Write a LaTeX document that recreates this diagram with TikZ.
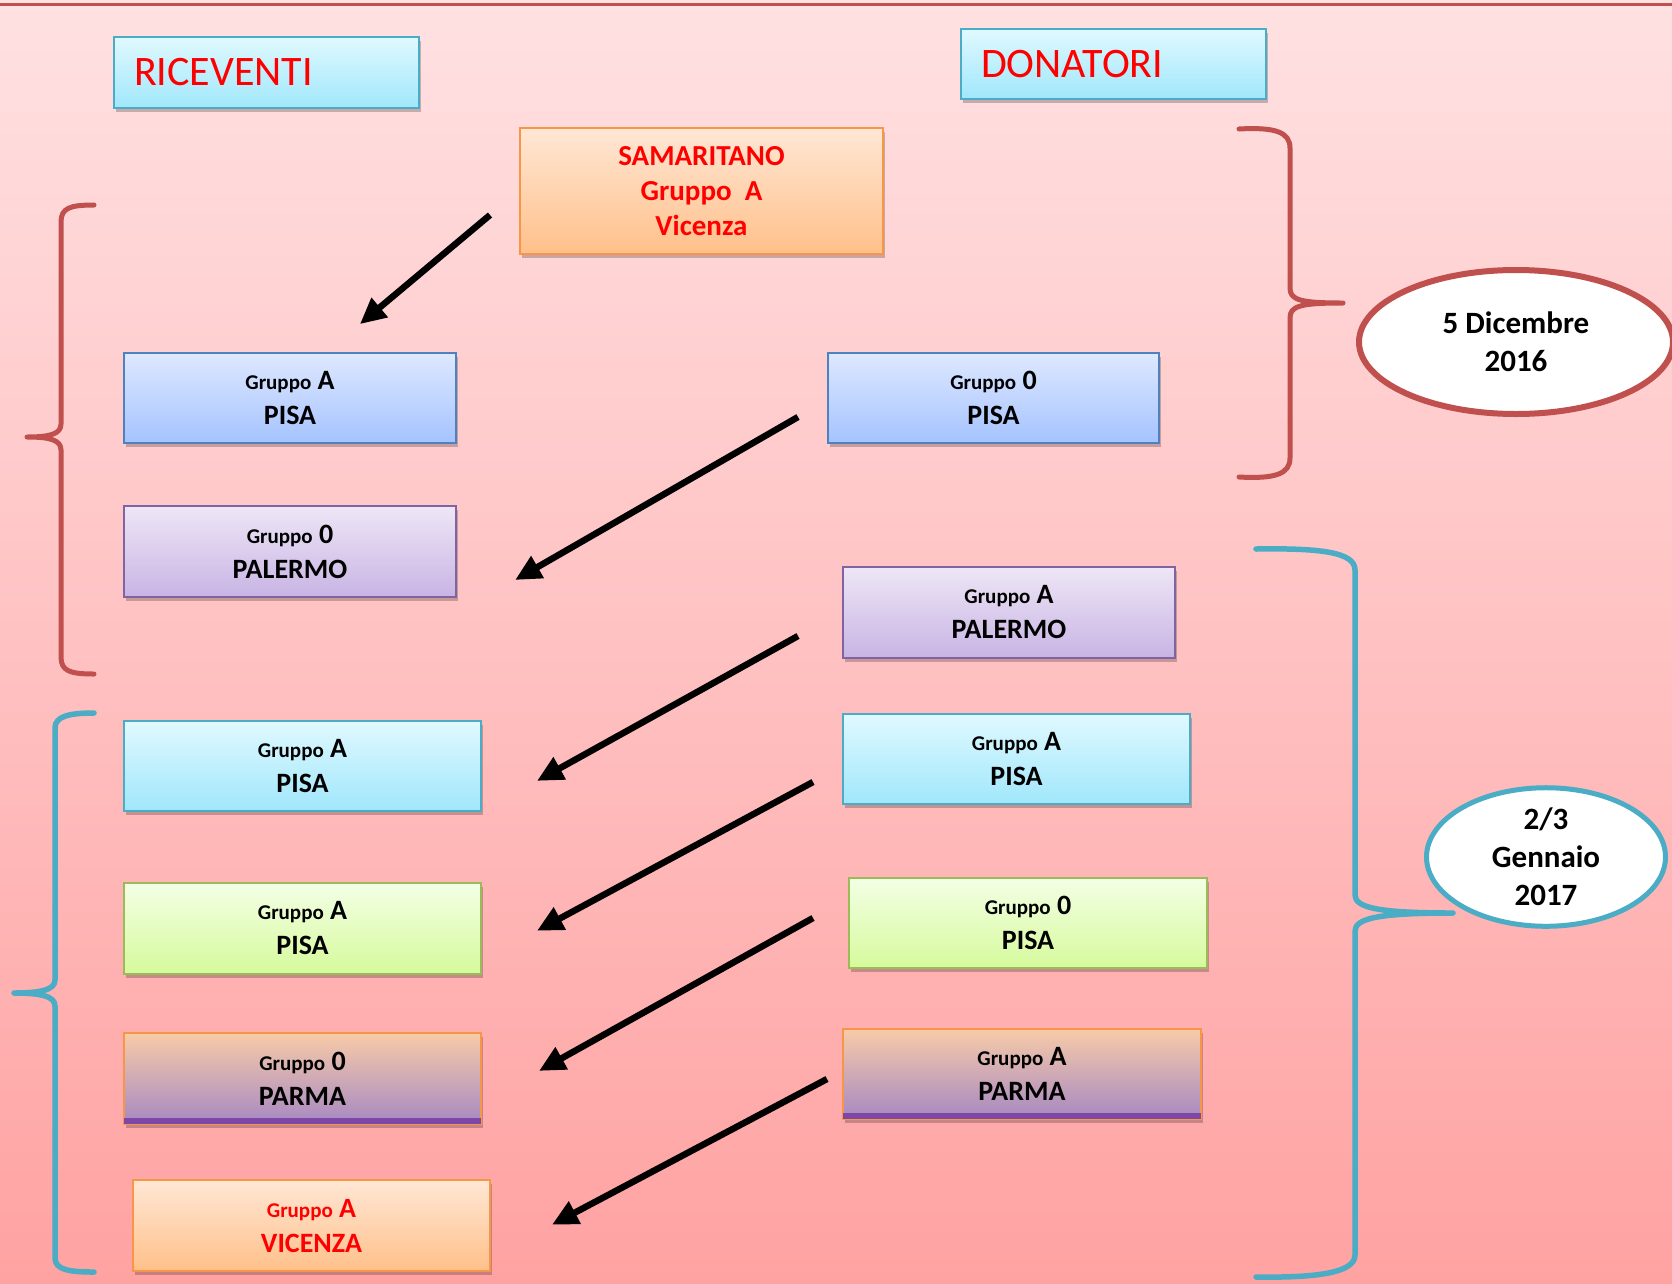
\documentclass[tikz,border=0pt]{standalone}
\usepackage{fontspec}
\setmainfont{Carlito}
\usetikzlibrary{arrows.meta,shapes.geometric,shadows}
\definecolor{bgtop}{RGB}{255,225,226}
\definecolor{bgbot}{RGB}{255,162,162}
\definecolor{bracered}{RGB}{192,80,77}
\definecolor{braceblue}{RGB}{75,172,198}
\definecolor{txtred}{RGB}{255,0,0}
\definecolor{blueT}{RGB}{222,232,255}\definecolor{blueB}{RGB}{165,195,255}\definecolor{blueD}{RGB}{79,129,189}
\definecolor{lavT}{RGB}{238,230,246}\definecolor{lavB}{RGB}{200,180,228}\definecolor{lavD}{RGB}{128,100,162}
\definecolor{cyanT}{RGB}{224,249,255}\definecolor{cyanB}{RGB}{160,231,251}\definecolor{cyanD}{RGB}{75,172,198}
\definecolor{grnT}{RGB}{243,255,229}\definecolor{grnB}{RGB}{214,250,156}\definecolor{grnD}{RGB}{155,187,89}
\definecolor{orT}{RGB}{255,231,213}\definecolor{orB}{RGB}{255,192,138}\definecolor{orD}{RGB}{247,150,70}
\definecolor{paT}{RGB}{248,203,168}\definecolor{paB}{RGB}{166,136,194}\definecolor{paS}{RGB}{125,71,168}
\newcommand\grupbox[2]{{\fontsize{21}{24}\selectfont Gruppo} {\fontsize{28}{30}\selectfont #1}\\#2}
\begin{document}
\begin{tikzpicture}[x=1pt,y=-1pt,
  box/.style={draw, line width=2pt, inner sep=0pt, align=center, font=\bfseries\fontsize{28}{35}\selectfont,
    drop shadow={shadow xshift=1.5pt, shadow yshift=-4pt, opacity=0.22, fill=black}},
  bluebox/.style={box, top color=blueT, bottom color=blueB, draw=blueD},
  lavbox/.style={box, top color=lavT, bottom color=lavB, draw=lavD},
  cyanbox/.style={box, top color=cyanT, bottom color=cyanB, draw=cyanD},
  grnbox/.style={box, top color=grnT, bottom color=grnB, draw=grnD},
  orbox/.style={box, top color=orT, bottom color=orB, draw=orD, text=txtred},
  pabox/.style={box, top color=paT, bottom color=paB, draw=orD},
  titlebox/.style={cyanbox, font=\fontsize{42}{48}\selectfont, text=txtred, align=left, text width=265pt},
  brace/.style={line width=5pt, line cap=round, line join=round},
  arr/.style={line width=6.5pt, -{Triangle[length=26pt,width=24pt]}, shorten >=-8pt},
  dateell/.style={ellipse, draw, fill=white, inner sep=0pt, align=center, font=\bfseries\fontsize{31}{38}\selectfont}
]
\useasboundingbox (0,0) rectangle (1672,1283);
\shade[top color=bgtop, bottom color=bgbot] (0,0) rectangle (1672,1283);
\draw[bracered, line width=3pt] (0,4) -- (1672,4);

% titles
\node[titlebox, minimum width=305, minimum height=71] (ric) at (266.5,72.5) {RICEVENTI};
\node[titlebox, minimum width=305, minimum height=70] (don) at (1113.5,64) {DONATORI};

% samaritano
\node[orbox, minimum width=363, minimum height=126, font=\bfseries\fontsize{29}{35}\selectfont] (sam) at (701.5,191)
  {SAMARITANO\\Gruppo\ \ A\\Vicenza};

% riceventi
\node[bluebox, minimum width=332, minimum height=90] (l1) at (290,398) {\grupbox{A}{PISA}};
\node[lavbox, minimum width=332, minimum height=91] (l2) at (290,551.5) {\grupbox{0}{PALERMO}};
\node[cyanbox, minimum width=357, minimum height=90] (l3) at (302.5,766) {\grupbox{A}{PISA}};
\node[grnbox, minimum width=357, minimum height=91] (l4) at (302.5,928.5) {\grupbox{A}{PISA}};
\node[pabox, minimum width=357, minimum height=91] (l5) at (302.5,1078.5) {};
\fill[paS] ([shift={(1pt,1pt)}]l5.south west) rectangle ([shift={(-1pt,7pt)}]l5.south east);
\node[align=center, font=\bfseries\fontsize{28}{35}\selectfont] (l5t) at (l5.center) {\grupbox{0}{PARMA}};
\node[orbox, minimum width=357, minimum height=91] (l6) at (311.5,1225.5) {\grupbox{A}{VICENZA}};

% donatori
\node[bluebox, minimum width=331, minimum height=90] (r1) at (993.5,398) {\grupbox{0}{PISA}};
\node[lavbox, minimum width=332, minimum height=91] (r2) at (1009,612.5) {\grupbox{A}{PALERMO}};
\node[cyanbox, minimum width=347, minimum height=90] (r3) at (1016.5,759) {\grupbox{A}{PISA}};
\node[grnbox, minimum width=358, minimum height=90] (r4) at (1028,923) {\grupbox{0}{PISA}};
\node[pabox, minimum width=358, minimum height=90] (r5) at (1022,1074) {};
\fill[paS] ([shift={(1pt,1pt)}]r5.south west) rectangle ([shift={(-1pt,7pt)}]r5.south east);
\node[align=center, font=\bfseries\fontsize{28}{35}\selectfont] (r5t) at (r5.center) {\grupbox{A}{PARMA}};

% arrows
\coordinate (a1s) at (490,215); \coordinate (a1e) at (366,319);
\coordinate (a2s) at (798,417); \coordinate (a2e) at (522,576);
\coordinate (a3s) at (798,636); \coordinate (a3e) at (544,777);
\coordinate (a4s) at (813,782); \coordinate (a4e) at (544,927);
\coordinate (a5s) at (813,918); \coordinate (a5e) at (546,1067);
\coordinate (a6s) at (827,1079); \coordinate (a6e) at (559,1221);
\foreach \i in {1,...,6} \draw[arr] (a\i s) -- (a\i e);

% braces
\draw[brace, bracered] (94,205) .. controls (70,205) and (61,208) .. (61,222) -- (61,424)
  .. controls (61,434) and (50,437) .. (27,437) .. controls (50,437) and (61,440) .. (61,450)
  -- (61,657) .. controls (61,671) and (70,674) .. (94,674);
\draw[brace, braceblue, line width=5.5pt] (94,713) .. controls (70,713) and (55,716) .. (55,728) -- (55,980)
  .. controls (55,990) and (40,993) .. (14,993) .. controls (40,993) and (55,996) .. (55,1006)
  -- (55,1258) .. controls (55,1270) and (70,1272) .. (94,1272);
\draw[brace, bracered] (1239,129) .. controls (1275,127) and (1290,132) .. (1290,148) -- (1290,288)
  .. controls (1290,300) and (1300,303) .. (1343,303) .. controls (1300,303) and (1290,306) .. (1290,318)
  -- (1290,458) .. controls (1290,474) and (1275,479) .. (1239,477);
\draw[brace, braceblue, line width=5.5pt] (1256,549) .. controls (1320,548) and (1355,552) .. (1355,570) -- (1355,895)
  .. controls (1355,908) and (1380,913) .. (1453,913) .. controls (1380,913) and (1355,918) .. (1355,931)
  -- (1355,1255) .. controls (1355,1272) and (1320,1278) .. (1256,1277);

% dates
\node[dateell, draw=bracered, line width=6pt, minimum width=314, minimum height=144] (d1) at (1516,342) {5 Dicembre\\2016};
\node[dateell, draw=braceblue, line width=5pt, minimum width=239, minimum height=121] (d2) at (1546,857) {2/3\\Gennaio\\2017};
\end{tikzpicture}
\end{document}
